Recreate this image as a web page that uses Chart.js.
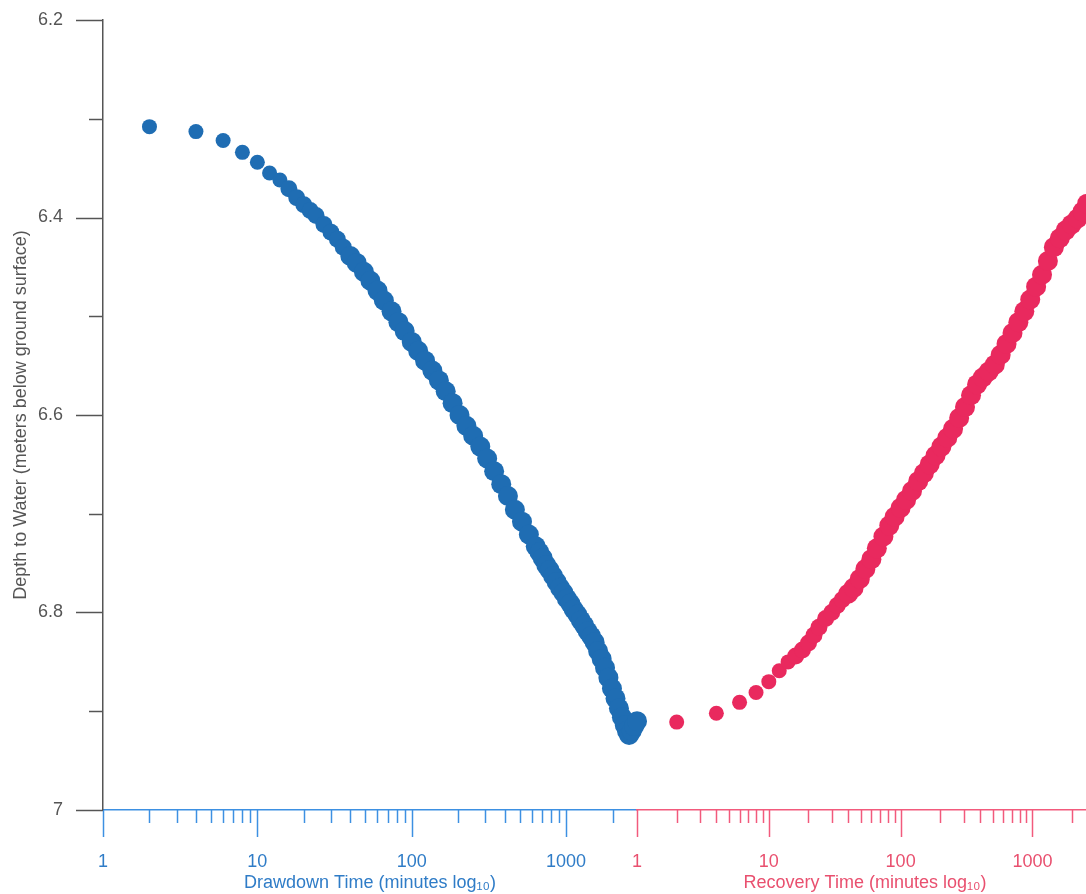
<!DOCTYPE html>
<html>
<head>
<meta charset="utf-8">
<script src="https://cdn.jsdelivr.net/npm/chart.js@4.4.1/dist/chart.umd.min.js"></script>
<style>
html, body { margin: 0; padding: 0; background: #fff; overflow: hidden; }
#wrap { width: 1086px; height: 894px; overflow: hidden; }
</style>
</head>
<body>
<div id="wrap"><canvas id="pumpTest" width="1093" height="894"></canvas></div>
<script>
// drawdown phase: minutes since pumping started, depth to water (m)
var drawdownTime = [2, 4, 6, 8, 10, 12, 14, 16, 18, 20, 22, 24, 27, 30, 33, 36, 40, 44, 49, 54, 60, 66, 74, 82, 90,
  100, 110, 122, 136, 150, 166, 184, 204, 226, 250, 278, 308, 342, 380, 420, 466, 518, 574, 636, 672, 706, 744, 782,
  824, 868, 914, 962, 1012, 1066, 1120, 1182, 1246, 1310, 1380, 1454, 1530, 1612, 1700, 1788, 1880, 1982, 2090,
  2200, 2300, 2400, 2480, 2560, 2660, 2760, 2880];
var drawdownDepth = [6.308, 6.313, 6.322, 6.334, 6.344, 6.355, 6.362, 6.371, 6.380, 6.387, 6.393, 6.398, 6.407, 6.415, 6.422, 6.430, 6.439, 6.446, 6.455, 6.464, 6.474, 6.484, 6.495, 6.506, 6.515,
  6.526, 6.535, 6.545, 6.555, 6.565, 6.576, 6.588, 6.600, 6.611, 6.621, 6.632, 6.644, 6.657, 6.670, 6.682, 6.696, 6.708, 6.721, 6.733, 6.739, 6.745, 6.752, 6.757,
  6.763, 6.769, 6.775, 6.780, 6.786, 6.791, 6.797, 6.802, 6.808, 6.813, 6.819, 6.824, 6.830, 6.839, 6.847, 6.856, 6.866, 6.877, 6.887,
  6.897, 6.906, 6.914, 6.920, 6.924, 6.920, 6.915, 6.910];

// recovery phase: minutes since pump stopped
var recoveryTime = [2, 4, 6, 8, 10, 12, 14, 16, 18, 20, 22, 24, 27, 30, 33, 36, 40, 44, 49, 54, 60, 66, 74, 82, 90,
  100, 110, 122, 136, 150, 166, 184, 204, 226, 250, 278, 308, 342, 380, 420, 466, 518, 574, 636, 706, 782, 868, 962,
  1066, 1182, 1310, 1454, 1612, 1788, 1982, 2200, 2400, 2600];
var recoveryDepth = [6.911, 6.902, 6.891, 6.881, 6.870, 6.859, 6.850, 6.844, 6.838, 6.831, 6.823, 6.815, 6.806, 6.800, 6.793, 6.787, 6.781, 6.775, 6.766, 6.756, 6.746, 6.735, 6.723, 6.712, 6.703,
  6.694, 6.686, 6.677, 6.667, 6.659, 6.650, 6.641, 6.632, 6.623, 6.614, 6.603, 6.592, 6.580, 6.569, 6.562, 6.556, 6.549, 6.539, 6.528, 6.517, 6.506, 6.495, 6.483,
  6.470, 6.458, 6.444, 6.430, 6.421, 6.413, 6.407, 6.401, 6.394, 6.386];

// tick values
var timeTicks = [1, 2, 3, 4, 5, 6, 7, 8, 9, 10, 20, 30, 40, 50, 60, 70, 80, 90,
  100, 200, 300, 400, 500, 600, 700, 800, 900, 1000, 2000];
var timeLabels = [1, 10, 100, 1000];
var depthTicks = [6.2, 6.3, 6.4, 6.5, 6.6, 6.7, 6.8, 6.9, 7];
var depthLabels = [6.2, 6.4, 6.6, 6.8, 7];

var FONT = "'Liberation Sans', Arial, sans-serif";
var blueDot = "#1f6db3";
var redDot = "#e9295e";
var blueAxis = "#3d90e2";
var redAxis = "#f25a7c";
var blueText = "#2f7cc7";
var redText = "#e9506f";
var greyAxis = "#555555";

function pairs(xs, ys) {
  return xs.map(function (t, i) { return { x: t, y: ys[i] }; });
}

// later readings pile up into a thick band on the log axis, so draw them a bit bigger
function dotSize(c) {
  var t = c.raw ? c.raw.x : 0;
  if (t < 16) return 7.5;
  if (t < 40) return 8.5;
  return 10;
}

// tick marks of two lengths, drawn at the scale's own pixel positions
var tickMarks = {
  id: "tickMarks",
  afterDraw: function (chart) {
    var ctx = chart.ctx;
    ctx.save();
    ctx.lineWidth = 1.5;
    [["xd", blueAxis], ["xr", redAxis]].forEach(function (a) {
      var s = chart.scales[a[0]];
      ctx.strokeStyle = a[1];
      timeTicks.forEach(function (v) {
        var x = Math.round(s.getPixelForValue(v)) + 0.5;
        var len = timeLabels.indexOf(v) >= 0 ? 27 : 13;
        ctx.beginPath();
        ctx.moveTo(x, s.top);
        ctx.lineTo(x, s.top + len);
        ctx.stroke();
      });
    });
    var y = chart.scales.y;
    ctx.strokeStyle = greyAxis;
    depthTicks.forEach(function (v) {
      var py = Math.round(y.getPixelForValue(v)) + 0.5;
      var len = depthLabels.indexOf(v) >= 0 ? 27 : 14;
      ctx.beginPath();
      ctx.moveTo(y.right, py);
      ctx.lineTo(y.right - len, py);
      ctx.stroke();
    });
    ctx.restore();
  }
};

function timeAxis(weight, text, textColor, lineColor) {
  return {
    type: "logarithmic",
    position: "bottom",
    stack: "time",
    stackWeight: weight,
    min: 1,
    max: 2880,
    afterBuildTicks: function (s) {
      s.ticks = timeTicks.map(function (v) { return { value: v }; });
    },
    afterFit: function (s) { s.height = 84; },
    // tickLength only reserves room, the marks come from the plugin
    grid: { display: true, drawOnChartArea: false, drawTicks: true, tickLength: 41, tickColor: "rgba(0,0,0,0)" },
    border: { display: true, color: lineColor, width: 1.5 },
    ticks: {
      autoSkip: false,
      maxRotation: 0,
      minRotation: 0,
      padding: 0,
      color: textColor,
      font: { family: FONT, size: 18 },
      callback: function (v) { return timeLabels.indexOf(v) >= 0 ? String(v) : ""; }
    },
    title: {
      display: true,
      text: text,
      color: textColor,
      font: { family: FONT, size: 18 },
      padding: { top: 0, bottom: 0 }
    }
  };
}

var ctx = document.getElementById("pumpTest");
var chart = new Chart(ctx, {
  type: "scatter",
  data: {
    datasets: [
      {
        label: "Drawdown",
        data: pairs(drawdownTime, drawdownDepth),
        xAxisID: "xd",
        yAxisID: "y",
        backgroundColor: blueDot,
        borderColor: blueDot,
        pointRadius: dotSize,
        pointBorderWidth: 0,
        clip: false
      },
      {
        label: "Recovery",
        data: pairs(recoveryTime, recoveryDepth),
        xAxisID: "xr",
        yAxisID: "y",
        backgroundColor: redDot,
        borderColor: redDot,
        pointRadius: dotSize,
        pointBorderWidth: 0,
        clip: false
      }
    ]
  },
  options: {
    responsive: false,
    animation: false,
    layout: { autoPadding: false, padding: { top: 20, left: 0, right: 0, bottom: 0 } },
    plugins: {
      legend: { display: false },
      tooltip: { enabled: false }
    },
    scales: {
      xd: timeAxis(534, "Drawdown Time (minutes log\u2081\u2080)", blueText, blueAxis),
      xr: timeAxis(456, "Recovery Time (minutes log\u2081\u2080)", redText, redAxis),
      y: {
        type: "linear",
        position: "left",
        reverse: true,
        min: 6.2,
        max: 7,
        afterBuildTicks: function (s) {
          s.ticks = depthTicks.map(function (v) { return { value: v }; });
        },
        afterFit: function (s) { s.width = 103; },
        grid: { display: true, drawOnChartArea: false, drawTicks: true, tickLength: 40, tickColor: "rgba(0,0,0,0)" },
        border: { display: true, color: greyAxis, width: 1.5 },
        ticks: {
          autoSkip: false,
          padding: 0,
          color: "#555555",
          font: { family: FONT, size: 18 },
          callback: function (v) {
            if (depthLabels.indexOf(v) < 0) return "";
            return v === 7 ? "7" : v.toFixed(1);
          }
        },
        title: {
          display: true,
          text: "Depth to Water (meters below ground surface)",
          color: "#555555",
          font: { family: FONT, size: 18 },
          padding: { top: 10, bottom: 0 }
        }
      }
    }
  },
  plugins: [tickMarks]
});
</script>
</body>
</html>
